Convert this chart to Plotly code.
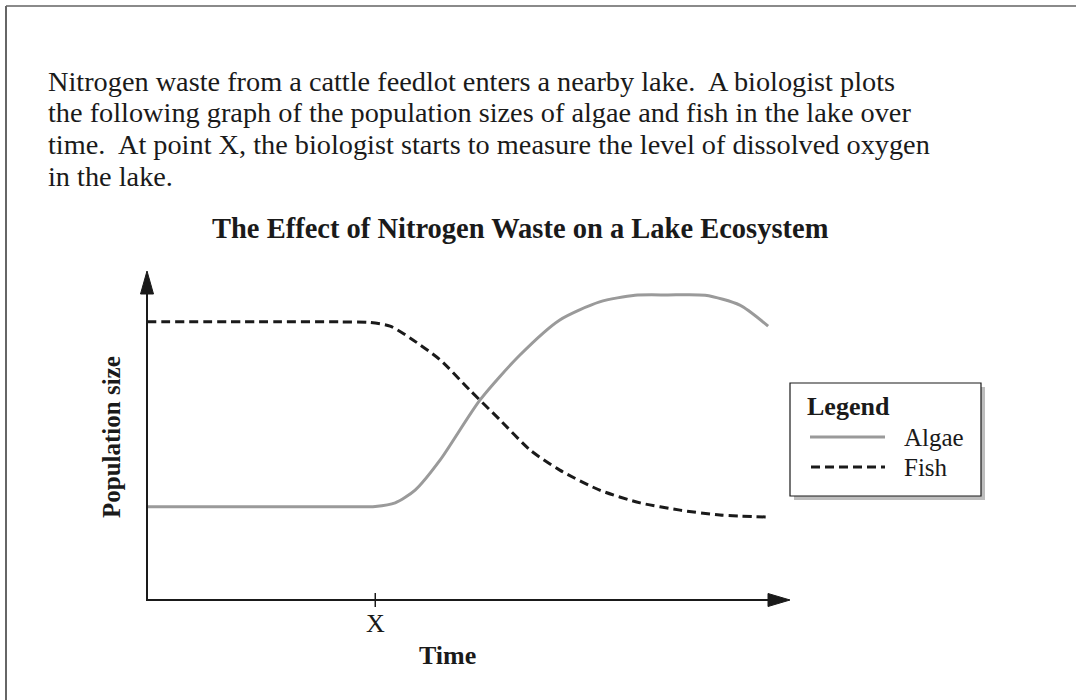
import plotly.graph_objects as go

W, H = 1076, 700
L, R, T, B = 147, 790, 272, 600  # plot area in pixels

# Data (time units 0-100, population units 0-100)
algae_t = [0, 20, 31, 35.5, 38.6, 41.7, 45.6, 51.8, 58.0, 64.2, 70.4, 75.9, 81.0, 86.8, 92.2, 96.6]
algae_p = [28.4, 28.4, 28.4, 28.5, 29.6, 33.5, 42.7, 61.0, 74.7, 85.4, 90.9, 92.9, 93.0, 92.9, 89.9, 83.5]
fish_t = [0, 20, 30, 34.7, 37.8, 40.9, 45.6, 50.2, 54.9, 59.6, 64.2, 70.4, 76.7, 82.9, 89.1, 96.6]
fish_p = [84.8, 84.8, 84.8, 84.6, 83.5, 79.9, 73.2, 64.0, 54.9, 45.7, 39.6, 33.5, 29.6, 27.4, 25.9, 25.3]
x_tick_t = 35.5
x_tick_label = "X"

paragraph = [
    "Nitrogen waste from a cattle feedlot enters a nearby lake.  A biologist plots",
    "the following graph of the population sizes of algae and fish in the lake over",
    "time.  At point X, the biologist starts to measure the level of dissolved oxygen",
    "in the lake.",
]
title = "The Effect of Nitrogen Waste on a Lake Ecosystem"

ALGAE_C = "#9a9a9a"
FISH_C = "#1a1a1a"
FONT = "Liberation Serif"


def px(x):
    return (x - L) / (R - L)


def py(y):
    return (B - y) / (B - T)


fig = go.Figure()
fig.add_trace(go.Scatter(x=algae_t, y=algae_p, mode="lines", name="Algae",
                         line=dict(color=ALGAE_C, width=3, shape="spline", smoothing=0.7)))
fig.add_trace(go.Scatter(x=fish_t, y=fish_p, mode="lines", name="Fish",
                         line=dict(color=FISH_C, width=3, dash="9px,5px", shape="spline", smoothing=0.7)))

shapes = []
# page border (top & left)
shapes.append(dict(type="line", xref="paper", yref="paper", x0=px(6), x1=px(W), y0=py(6), y1=py(6),
                   line=dict(color="#8a8a8a", width=2)))
shapes.append(dict(type="line", xref="paper", yref="paper", x0=px(6), x1=px(6), y0=py(6), y1=py(H),
                   line=dict(color="#666666", width=2)))
# axes
shapes.append(dict(type="line", xref="paper", yref="paper", x0=px(147), x1=px(147), y0=py(601), y1=py(290),
                   line=dict(color="#1a1a1a", width=2)))
shapes.append(dict(type="line", xref="paper", yref="paper", x0=px(146), x1=px(770), y0=py(600), y1=py(600),
                   line=dict(color="#1a1a1a", width=2)))
# arrowheads
shapes.append(dict(type="path", xref="paper", yref="paper",
                   path=f"M {px(147)} {py(271)} L {px(140.5)} {py(294)} L {px(153.5)} {py(294)} Z",
                   fillcolor="#1a1a1a", line=dict(color="#1a1a1a", width=1)))
shapes.append(dict(type="path", xref="paper", yref="paper",
                   path=f"M {px(790)} {py(600)} L {px(768)} {py(593.5)} L {px(768)} {py(606.5)} Z",
                   fillcolor="#1a1a1a", line=dict(color="#1a1a1a", width=1)))
# X tick
shapes.append(dict(type="line", xref="x", yref="paper", x0=x_tick_t, x1=x_tick_t, y0=py(593), y1=py(607),
                   line=dict(color="#1a1a1a", width=1.5)))
# legend box with shadow
shapes.append(dict(type="rect", xref="paper", yref="paper", x0=px(794), x1=px(985), y0=py(387), y1=py(500),
                   fillcolor="#bdbdbd", line=dict(width=0)))
shapes.append(dict(type="rect", xref="paper", yref="paper", x0=px(790), x1=px(981), y0=py(383), y1=py(496),
                   fillcolor="white", line=dict(color="#1a1a1a", width=1.2)))
shapes.append(dict(type="line", xref="paper", yref="paper", x0=px(810), x1=px(885), y0=py(437), y1=py(437),
                   line=dict(color=ALGAE_C, width=3)))
shapes.append(dict(type="line", xref="paper", yref="paper", x0=px(811), x1=px(885), y0=py(467), y1=py(467),
                   line=dict(color=FISH_C, width=3, dash="9px,5px")))

ann = []
for i, line in enumerate(paragraph):
    ann.append(dict(text=line, xref="paper", yref="paper", x=px(46), y=py(81 + i * 31.7),
                    xanchor="left", yanchor="middle", showarrow=False,
                    font=dict(family=FONT, size=28.3, color="#1a1a1a")))
ann.append(dict(text=f"<b>{title}</b>", xref="paper", yref="paper", x=px(520), y=py(228),
                xanchor="center", yanchor="middle", showarrow=False,
                font=dict(family=FONT, size=28.5, color="#1a1a1a")))
ann.append(dict(text="<b>Population size</b>", xref="paper", yref="paper", x=px(111), y=py(437),
                xanchor="center", yanchor="middle", showarrow=False, textangle=-90,
                font=dict(family=FONT, size=25, color="#1a1a1a")))
ann.append(dict(text=x_tick_label, xref="x", yref="paper", x=x_tick_t, y=py(623),
                xanchor="center", yanchor="middle", showarrow=False,
                font=dict(family=FONT, size=26, color="#1a1a1a")))
ann.append(dict(text="<b>Time</b>", xref="paper", yref="paper", x=px(447), y=py(655),
                xanchor="center", yanchor="middle", showarrow=False,
                font=dict(family=FONT, size=26, color="#1a1a1a")))
ann.append(dict(text="<b>Legend</b>", xref="paper", yref="paper", x=px(805), y=py(406),
                xanchor="left", yanchor="middle", showarrow=False,
                font=dict(family=FONT, size=26, color="#1a1a1a")))
ann.append(dict(text="Algae", xref="paper", yref="paper", x=px(902), y=py(437),
                xanchor="left", yanchor="middle", showarrow=False,
                font=dict(family=FONT, size=25, color="#1a1a1a")))
ann.append(dict(text="Fish", xref="paper", yref="paper", x=px(902), y=py(467),
                xanchor="left", yanchor="middle", showarrow=False,
                font=dict(family=FONT, size=25, color="#1a1a1a")))

fig.update_layout(
    width=W, height=H,
    margin=dict(l=L, r=W - R, t=T, b=H - B, pad=0),
    paper_bgcolor="white", plot_bgcolor="white",
    showlegend=False,
    xaxis=dict(range=[0, 100], visible=False, fixedrange=True),
    yaxis=dict(range=[0, 100], visible=False, fixedrange=True),
    shapes=shapes, annotations=ann,
)
fig.write_html("out.html", config={"displayModeBar": False},
               post_script="document.body.style.margin='0';document.body.style.overflow='hidden';")
